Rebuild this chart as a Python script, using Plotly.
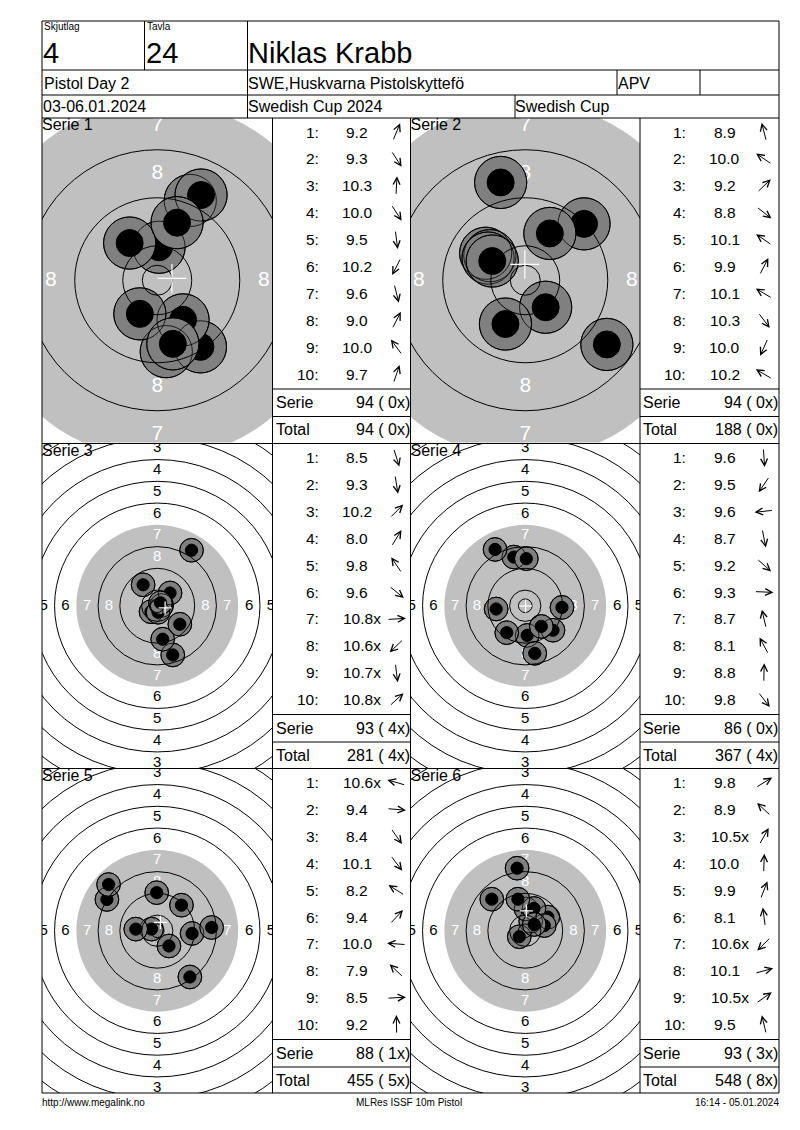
import math
import plotly.graph_objects as go

W, H = 800, 1130
FONT = "Liberation Sans, Arial, sans-serif"

# header and footer
squad = "4"
lane = "24"
shooter = "Niklas Krabb"
event = "Pistol Day 2"
club = "SWE,Huskvarna Pistolskyttefö"
shooter_class = "APV"
dates = "03-06.01.2024"
competition = "Swedish Cup 2024"
cup = "Swedish Cup"
footer_left = "http://www.megalink.no"
footer_mid = "MLRes ISSF 10m Pistol"
footer_right = "16:14 - 05.01.2024"

series_names = ["Serie 1", "Serie 2", "Serie 3", "Serie 4", "Serie 5", "Serie 6"]

# shot values as printed, hit positions in mm from target centre (x right, y up)
s1_scores = ["9.2", "9.3", "10.3", "10.0", "9.5", "10.2", "9.6", "9.0", "10.0", "9.7"]
s1_x = [5.5, 7.2, 0.3, 4.3, 1.5, -2.9, 2.6, 7.3, -4.6, 3.3]
s1_y = [13.3, -11.1, 5.5, -6.6, -11.9, -5.6, -10.6, 14.2, 6.2, 9.6]

s2_scores = ["8.9", "10.0", "9.2", "8.8", "10.1", "9.9", "10.1", "10.3", "10.0", "10.2"]
s2_x = [-4.1, -6.6, 9.8, 13.6, -5.9, 4.1, -6.2, 3.4, -3.3, -5.5]
s2_y = [16.3, 4.5, 9.4, -10.7, 4.1, 7.8, 3.7, -4.5, -7.3, 3.2]

s3_scores = ["8.5", "9.3", "10.2", "8.0", "9.8", "9.6", "10.8x", "10.6x", "10.7x", "10.8x"]
s3_x = [5.7, 2.0, 4.7, 12.6, -5.2, 8.3, 1.6, -2.3, 0.3, 1.2]
s3_y = [-18.1, -12.3, 4.7, 20.4, 7.7, -6.8, 0.1, -2.2, -2.4, 1.1]

s4_scores = ["9.6", "9.5", "9.6", "8.7", "9.2", "9.3", "8.7", "8.1", "8.8", "9.8"]
s4_x = [0.7, -6.8, -10.7, 3.5, 10.2, 13.5, -4.2, -11.1, 0.4, 5.9]
s4_y = [-10.9, -9.9, -1.2, -17.5, -9.0, -0.6, 17.9, 20.7, 17.3, -7.6]

s5_scores = ["10.6x", "9.4", "8.4", "10.1", "8.2", "9.4", "10.0", "7.9", "8.5", "9.2"]
s5_x = [-2.1, 12.8, 12.0, 4.3, -18.5, 8.9, -7.9, -17.9, 20.0, -0.2]
s5_y = [0.6, -1.0, -17.0, -5.6, 11.5, 9.4, 0.6, 17.0, 1.2, 14.0]

s6_scores = ["9.8", "8.9", "10.5x", "10.0", "9.9", "8.1", "10.6x", "10.1", "10.5x", "9.5"]
s6_x = [8.3, -12.3, 2.0, 0.3, 3.2, -3.0, -2.2, 7.0, 3.3, -2.7]
s6_y = [5.0, 11.6, 3.5, 8.0, 8.2, 23.0, -2.2, 1.9, 2.3, 11.6]

serie_points = [94, 94, 93, 86, 88, 93]
serie_inner = [0, 0, 4, 0, 1, 3]
total_points = [94, 188, 281, 367, 455, 548]
total_inner = [0, 0, 4, 4, 5, 8]

# ISSF 10 m air pistol target (mm)
ring_values = [10, 9, 8, 7, 6, 5, 4, 3, 2, 1]
ring_radius = [5.75, 13.75, 21.75, 29.75, 37.75, 45.75, 53.75, 61.75, 69.75, 77.75]
inner_ten = 2.5
black_radius = 29.75

# page layout in pixels
LEFT, RIGHT, TOP, BOTTOM = 42, 779, 21, 1093
ROW_TOPS = [118, 443.5, 768.5]
ROW_H = 324.5
TARGET_COLS = [(42, 272.5), (410.5, 640)]
TABLE_COLS = [(272.5, 410.5), (640, 779)]
ZOOM = [6.0, 6.0, 2.72, 2.72, 2.72, 2.72]   # px per mm
LABEL_SIZE = [21, 21, 15, 15, 15, 15]
SHOT_R, HOLE_R, CROSS = 4.35, 2.25, 2.4

shapes = []
annotations = []
traces = []


def px(x):
    return x / W


def py(y):
    return 1 - y / H


def line(x0, y0, x1, y1):
    shapes.append(dict(type="line", xref="paper", yref="paper",
                       x0=px(x0), y0=py(y0), x1=px(x1), y1=py(y1),
                       line=dict(color="black", width=1), layer="above"))


def text(x, y, s, size, anchor="left"):
    annotations.append(dict(xref="paper", yref="paper", x=px(x), y=py(y), text=s,
                            showarrow=False, xanchor=anchor, yanchor="middle",
                            font=dict(family=FONT, size=size, color="black")))


def circle(xa, ya, r, cx=0.0, cy=0.0, fill=None, color="black", width=1, layer="above"):
    d = dict(type="circle", xref=xa, yref=ya, x0=cx - r, x1=cx + r, y0=cy - r, y1=cy + r,
             layer=layer, line=dict(color=color, width=width))
    if fill:
        d["fillcolor"] = fill
    if width == 0:
        d["line"] = dict(width=0)
    shapes.append(d)


def draw_header():
    shapes.append(dict(type="rect", xref="paper", yref="paper",
                       x0=px(LEFT), x1=px(RIGHT), y0=py(BOTTOM), y1=py(TOP),
                       line=dict(color="black", width=1), layer="above"))
    for y in [70, 95, 118, 443.5, 768.5]:
        line(LEFT, y, RIGHT, y)
    line(144.5, TOP, 144.5, 70)
    line(247.5, TOP, 247.5, 118)
    line(617, 70, 617, 95)
    line(700, 70, 700, 95)
    line(515, 95, 515, 118)
    for x in [272.5, 410.5, 640]:
        line(x, 118, x, BOTTOM)

    text(42, 27, "Skjutlag", 10)
    text(144.5, 27, "Tavla", 10)
    text(41, 53, squad, 29)
    text(144, 53, lane, 29)
    text(246, 53, shooter, 29)
    text(42, 83, event, 16)
    text(246, 83, club, 16)
    text(616, 83, shooter_class, 16)
    text(41, 107, dates, 16)
    text(246, 107, competition, 16)
    text(513, 107, cup, 16)

    text(40, 1102, footer_left, 10)
    text(409, 1102, footer_mid, 10, anchor="center")
    text(781, 1102, footer_right, 10, anchor="right")


def draw_target(i, layout, xs, ys):
    n = i + 1
    suffix = "" if n == 1 else str(n)
    xa, ya = "x" + suffix, "y" + suffix
    row, col = divmod(i, 2)
    cx0, cx1 = TARGET_COLS[col]
    cy0 = ROW_TOPS[row]
    cy1 = cy0 + ROW_H
    s = ZOOM[i]
    hw = (cx1 - cx0) / 2 / s
    hh = (cy1 - cy0) / 2 / s
    layout["xaxis" + suffix] = dict(domain=[px(cx0), px(cx1)], range=[-hw, hw],
                                    visible=False, anchor=ya, fixedrange=True)
    layout["yaxis" + suffix] = dict(domain=[py(cy1), py(cy0)], range=[-hh, hh],
                                    visible=False, anchor=xa, fixedrange=True)

    # aiming black (grey here)
    circle(xa, ya, black_radius, fill="#c0c0c0", width=0, layer="below")

    # ring numbers (only those that reach into the visible part of the cell)
    pad = LABEL_SIZE[i] * 0.4 / s
    lx, ly, lt, lc = [], [], [], []
    for v, r in zip(ring_values, ring_radius):
        if v > 8:
            continue
        m = r - 4.0
        for dx, dy in [(0, m), (0, -m), (-m, 0), (m, 0)]:
            if abs(dx) > hw + pad or abs(dy) > hh + pad:
                continue
            lx.append(dx)
            ly.append(dy)
            lt.append(str(v))
            lc.append("white" if v >= 7 else "black")
    traces.append(go.Scatter(x=lx, y=ly, text=lt, mode="text", xaxis=xa, yaxis=ya,
                             textposition="middle center", cliponaxis=True,
                             textfont=dict(family=FONT, size=LABEL_SIZE[i], color=lc),
                             hoverinfo="skip", showlegend=False))
    traces.append(go.Scatter(x=[-hw], y=[hh], text=[series_names[i]], mode="text",
                             xaxis=xa, yaxis=ya, textposition="bottom right",
                             cliponaxis=True,
                             textfont=dict(family=FONT, size=16, color="black"),
                             hoverinfo="skip", showlegend=False))

    # hits
    for x, y in zip(xs, ys):
        circle(xa, ya, SHOT_R, x, y, fill="#808080")
        circle(xa, ya, HOLE_R, x, y, fill="black")
    for x, y in zip(xs, ys):
        circle(xa, ya, SHOT_R, x, y, width=0.8)

    # ring lines
    for r in [inner_ten] + ring_radius:
        if r == black_radius:
            continue
        circle(xa, ya, r, width=1)

    # group centre
    mx = sum(xs) / len(xs)
    my = sum(ys) / len(ys)
    for x0, y0, x1, y1 in [(mx - CROSS, my, mx + CROSS, my), (mx, my - CROSS, mx, my + CROSS)]:
        shapes.append(dict(type="line", xref=xa, yref=ya, x0=x0, y0=y0, x1=x1, y1=y1,
                           line=dict(color="white", width=1.2), layer="above"))


def draw_table(i, scores, xs, ys):
    row, col = divmod(i, 2)
    tx0, tx1 = TABLE_COLS[col]
    top = ROW_TOPS[row]
    L = 19
    for k, (sc, x, y) in enumerate(zip(scores, xs, ys)):
        yc = top + 14 + 26.9 * k
        text(tx0 + 48, yc, f"{k + 1}:", 15.5, anchor="right")
        if sc.endswith("x"):
            text(tx0 + 84.5 - 16, yc, sc, 15.5)
        else:
            text(tx0 + 84.5, yc, sc, 15.5, anchor="center")
        # arrow points the way the hit lies from the centre
        a = math.atan2(y, x)
        hx = tx0 + 124 + L / 2 * math.cos(a)
        hy = yc - L / 2 * math.sin(a)
        annotations.append(dict(xref="paper", yref="paper", x=px(hx), y=py(hy),
                                ax=-L * math.cos(a), ay=L * math.sin(a),
                                axref="pixel", ayref="pixel", text="", showarrow=True,
                                arrowhead=5, arrowsize=1.35, arrowwidth=1,
                                arrowcolor="black", standoff=0, startstandoff=0))
    line(tx0, top + 271, tx1, top + 271)
    line(tx0, top + 298.5, tx1, top + 298.5)
    text(tx0 + 1, top + 284.5, "Serie", 16)
    text(tx1 + 1, top + 284.5, f"{serie_points[i]} ( {serie_inner[i]}x)", 16, anchor="right")
    text(tx0 + 1, top + 311.5, "Total", 16)
    text(tx1 + 1, top + 311.5, f"{total_points[i]} ( {total_inner[i]}x)", 16, anchor="right")


def main():
    data = [
        (s1_scores, s1_x, s1_y),
        (s2_scores, s2_x, s2_y),
        (s3_scores, s3_x, s3_y),
        (s4_scores, s4_x, s4_y),
        (s5_scores, s5_x, s5_y),
        (s6_scores, s6_x, s6_y),
    ]
    layout = {}
    for i, (scores, xs, ys) in enumerate(data):
        draw_target(i, layout, xs, ys)
        draw_table(i, scores, xs, ys)
    draw_header()

    fig = go.Figure(data=traces)
    fig.update_layout(**layout)
    fig.update_layout(
        width=W, height=H, autosize=False,
        margin=dict(l=0, r=0, t=0, b=0),
        paper_bgcolor="white", plot_bgcolor="white",
        shapes=shapes, annotations=annotations,
        showlegend=False,
    )
    # page body margin off so the sheet sits at the window's top-left corner
    fig.write_html("out.html", config={"displayModeBar": False},
                   post_script="document.body.style.margin='0px';")


if __name__ == "__main__":
    main()
